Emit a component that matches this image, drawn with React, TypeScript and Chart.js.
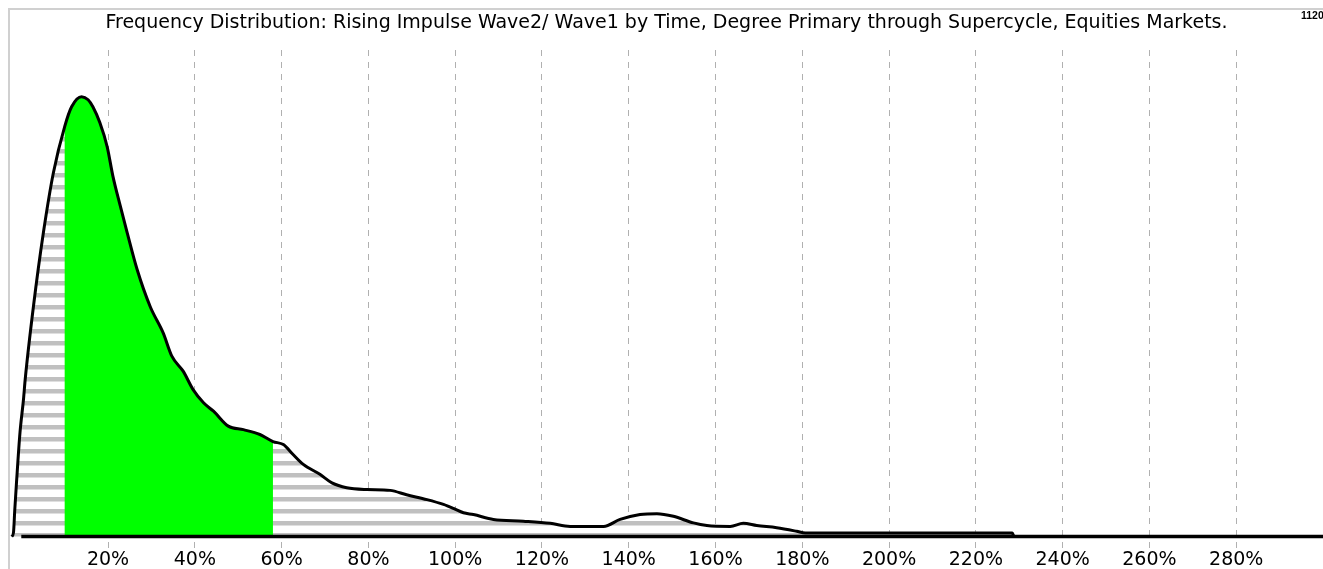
import React, { useEffect, useRef } from 'react';
import { Chart, registerables } from 'chart.js';

Chart.register(...registerables);

// ---- data ----
const chartTitle =
  'Frequency Distribution: Rising Impulse Wave2/ Wave1 by Time, Degree Primary through Supercycle, Equities Markets.';
const cornerLabel = '1120';

// ratio Wave2/Wave1 by time, in percent
const binPercent = [
  -2.2, -1.8, -1.5, -1.1, -0.3, 0.5, 0.9, 2.8, 5.1, 7.4, 10.0, 11.6, 13.9, 15.4, 16.5, 18.1,
  19.8, 21.1, 22.8, 24.4, 26.7, 29.7, 32.7, 34.7, 37.3, 39.6, 42.0, 44.3, 47.7, 51.2, 55.0,
  58.0, 60.4, 62.7, 65.0, 68.9, 71.6, 75.0, 79.6, 85.0, 88.8, 93.5, 97.3, 99.6, 101.9, 104.2,
  108.8, 115.7, 121.9, 126.5, 134.2, 138.0, 142.6, 146.5, 150.3, 154.9, 158.0, 163.4, 166.4,
  169.5, 174.1, 178.7, 180.7, 228.4, 228.8, 300,
];
// relative frequency (peak = 100)
const frequency = [
  0, 0.9, 6.1, 12.3, 23.6, 31.1, 35.7, 52.3, 69.1, 82.7, 93.2, 97.7, 100, 99.3, 97.7, 94.1,
  88.6, 82.0, 75.2, 69.1, 60.7, 52.3, 46.3, 41.0, 37.6, 33.4, 30.4, 28.5, 25.1, 24.3, 23.2,
  21.6, 20.9, 18.6, 16.4, 14.1, 12.2, 11.1, 10.7, 10.5, 9.5, 8.4, 7.3, 6.4, 5.4, 5.0,
  3.9, 3.5, 3.0, 2.3, 2.3, 3.9, 5.0, 5.2, 4.6, 3.1, 2.5, 2.3, 3.0,
  2.5, 2.0, 1.2, 0.8, 0.8, 0, 0,
];
// highlighted (green) band of the distribution
const highlightFrom = 10;
const highlightTo = 58;
// zero line extent
const baselineX = [0, 300];
// axis ticks
const tickValues = [20, 40, 60, 80, 100, 120, 140, 160, 180, 200, 220, 240, 260, 280];
const tickLabels = tickValues.map((v) => `${v}%`);

const FONT = '"DejaVu Sans", "Liberation Sans", Arial, sans-serif';
const SMALL_FONT = '"Liberation Sans", Arial, sans-serif';

export default function App() {
  const ref = useRef<HTMLCanvasElement>(null);

  useEffect(() => {
    const canvas = ref.current;
    if (!canvas) return;
    const ctx2d = canvas.getContext('2d')!;

    // horizontal hatch pattern
    const pc = document.createElement('canvas');
    pc.width = 4;
    pc.height = 12;
    const pctx = pc.getContext('2d')!;
    pctx.fillStyle = '#ffffff';
    pctx.fillRect(0, 0, 4, 12);
    pctx.fillStyle = '#c0c0c0';
    pctx.fillRect(0, 5, 4, 4.5);
    const hatch = ctx2d.createPattern(pc, 'repeat');

    const areaFill = {
      id: 'areaFill',
      beforeDatasetsDraw(chart: any) {
        const meta = chart.getDatasetMeta(0);
        const line = meta.dataset;
        const pts = meta.data;
        if (!line || !pts.length) return;
        const { ctx, chartArea, scales } = chart;
        const base = scales.y.getPixelForValue(0);
        const build = () => {
          ctx.beginPath();
          line.path(ctx);
          ctx.lineTo(pts[pts.length - 1].x, base);
          ctx.lineTo(pts[0].x, base);
          ctx.closePath();
        };
        ctx.save();
        ctx.beginPath();
        ctx.rect(chartArea.left, chartArea.top, chartArea.right - chartArea.left, chartArea.bottom - chartArea.top);
        ctx.clip();
        build();
        ctx.fillStyle = hatch;
        ctx.fill();
        const gx0 = scales.x.getPixelForValue(highlightFrom);
        const gx1 = scales.x.getPixelForValue(highlightTo);
        ctx.beginPath();
        ctx.rect(gx0, chartArea.top, gx1 - gx0, chartArea.bottom - chartArea.top);
        ctx.clip();
        build();
        ctx.fillStyle = '#00ff00';
        ctx.fill();
        ctx.restore();
      },
    };

    const cornerText = {
      id: 'cornerText',
      afterDraw(chart: any) {
        const { ctx } = chart;
        ctx.save();
        ctx.font = `bold 10.5px ${SMALL_FONT}`;
        ctx.fillStyle = '#000';
        ctx.textAlign = 'left';
        ctx.textBaseline = 'middle';
        ctx.fillText(cornerLabel, 1301, 16.5);
        ctx.restore();
      },
    };

    const chart = new Chart(canvas, {
      type: 'line',
      data: {
        datasets: [
          {
            label: 'Frequency',
            data: binPercent.map((x, i) => ({ x, y: frequency[i] })),
            borderColor: '#000000',
            borderWidth: 3,
            pointRadius: 0,
            fill: false,
            cubicInterpolationMode: 'monotone',
          },
          {
            label: 'Zero',
            data: baselineX.map((x) => ({ x, y: 0 })),
            borderColor: '#000000',
            borderWidth: 3.5,
            pointRadius: 0,
            fill: false,
          },
        ],
      },
      options: {
        animation: false,
        responsive: false,
        devicePixelRatio: 1,
        layout: { padding: { left: 10, right: 0, top: 0, bottom: 0 } },
        plugins: {
          legend: { display: false },
          tooltip: { enabled: false },
          title: {
            display: true,
            text: chartTitle,
            color: '#000',
            font: { family: FONT, size: 19, weight: 'normal', lineHeight: 1.2 },
            padding: { top: 12, bottom: 15.2 },
          },
        },
        scales: {
          x: {
            type: 'linear',
            min: -2.6,
            max: 300,
            afterBuildTicks: (axis: any) => {
              axis.ticks = tickValues.map((v) => ({ value: v }));
            },
            afterFit: (axis: any) => {
              axis.height = 21;
            },
            grid: {
              color: '#b0b0b0',
              lineWidth: 1,
              drawTicks: false,
              drawOnChartArea: true,
            },
            border: { display: false, dash: [6, 6] },
            ticks: {
              autoSkip: false,
              maxRotation: 0,
              padding: 1,
              color: '#000',
              font: { family: FONT, size: 19 },
              callback: (value: any) => {
                const i = tickValues.indexOf(Number(value));
                return i >= 0 ? tickLabels[i] : '';
              },
            },
          },
          y: {
            type: 'linear',
            display: false,
            min: -2.6,
            max: 110.6,
          },
        },
      },
      plugins: [areaFill, cornerText],
    });

    return () => chart.destroy();
  }, []);

  return (
    <div style={{ position: 'fixed', left: 0, top: 0, width: 1323, height: 569, background: '#ffffff', overflow: 'hidden' }}>
      <div
        style={{
          position: 'absolute',
          left: 8,
          top: 8,
          right: 0,
          bottom: 0,
          borderTop: '2px solid #d0d0d0',
          borderLeft: '2px solid #d0d0d0',
        }}
      />
      <canvas ref={ref} width={1323} height={569} style={{ position: 'absolute', left: 0, top: 0, width: 1323, height: 569 }} />
    </div>
  );
}
